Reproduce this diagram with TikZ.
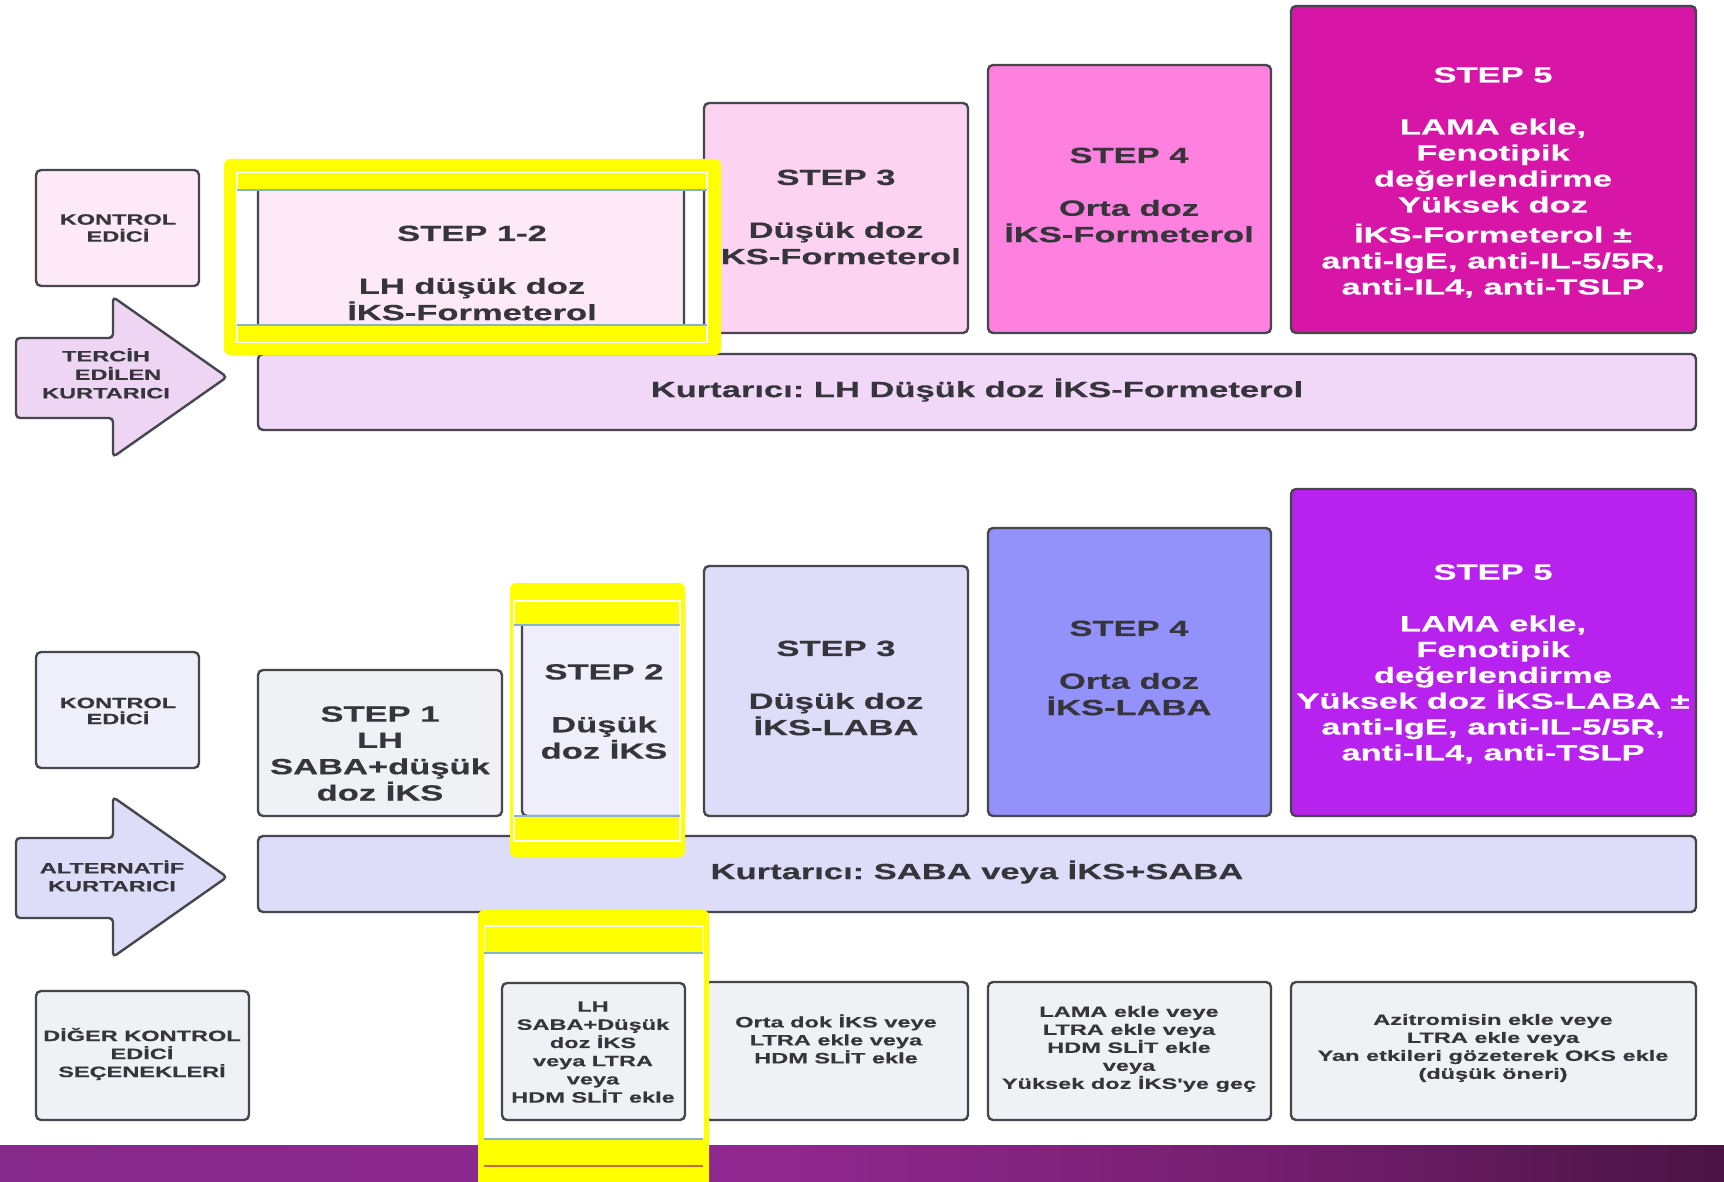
\documentclass[tikz,border=0pt]{standalone}
\usepackage{fontspec}
\setmainfont{Liberation Sans}
\newfontfamily\wfont{Liberation Sans}[FakeStretch=1.57, FakeBold=0.4]
\frenchspacing

% palette
\definecolor{ink}{HTML}{36353C}
\definecolor{edge}{HTML}{46464E}
\definecolor{pinkA}{HTML}{FDEAF6}
\definecolor{pinkArrow}{HTML}{EDD5F3}
\definecolor{pinkBar}{HTML}{F1D7F8}
\definecolor{pinkB}{HTML}{FCD3F0}
\definecolor{pinkC}{HTML}{FE80DF}
\definecolor{magentaD}{HTML}{D716A8}
\definecolor{lilacA}{HTML}{EFEFFC}
\definecolor{lilacB}{HTML}{DDDDF9}
\definecolor{periw}{HTML}{9292FA}
\definecolor{violetD}{HTML}{B822EE}
\definecolor{grayBox}{HTML}{F0F1F4}
\definecolor{hlyellow}{HTML}{FFFF00}
\definecolor{hlblue}{HTML}{8CB2CA}
\definecolor{hlred}{HTML}{C46A3C}
\definecolor{bandL}{HTML}{862A8C}
\definecolor{bandM}{HTML}{902890}
\definecolor{bandN}{HTML}{731E6C}
\definecolor{bandR}{HTML}{4A1444}

% footer gradient: the visible part of a TikZ shading is its middle 25bp--75bp
\pgfdeclarehorizontalshading{bandshade}{100bp}{color(0bp)=(bandL); color(25bp)=(bandL); color(47.5bp)=(bandM); color(62.5bp)=(bandN); color(75bp)=(bandR); color(100bp)=(bandR)}

\tikzset{
  box/.style={draw=edge, line width=2.4pt, rounded corners=5pt},
  bigtxt/.style={text=ink, align=center, inner sep=0pt,
    font=\wfont\bfseries\fontsize{22}{26.4}\selectfont},
  smalltxt/.style={text=ink, align=center, inner sep=0pt,
    font=\wfont\bfseries\fontsize{15}{18}\selectfont},
  hlframe/.style={fill=hlyellow, even odd rule},
  hlline/.style={draw=white, line width=1.4pt},
  hledge/.style={draw=hlblue, line width=1.3pt},
}

\begin{document}
\begin{tikzpicture}[x=1pt, y=-1pt]
\useasboundingbox (0,0) rectangle (1724,1182);
\fill[white] (0,0) rectangle (1724,1182);

% ---------- preferred track (ICS-formoterol) ----------
\draw[box, fill=pinkA] (36,170) rectangle (199,286);
\draw[box, fill=pinkArrow, rounded corners=4pt]
  (16,338) -- (113,338) -- (113,297) -- (227,377) -- (113,457) -- (113,418) -- (16,418) -- cycle;
\draw[box, fill=pinkA] (258,172) rectangle (684,333);
\draw[box, fill=pinkB] (704,103) rectangle (968,333);
\draw[box, fill=pinkC] (988,65) rectangle (1271,333);
\draw[box, fill=magentaD] (1291,6) rectangle (1696,333);
\draw[box, fill=pinkBar] (258,354) rectangle (1696,430);

\node[smalltxt, font=\wfont\bfseries\fontsize{15}{17}\selectfont] (ctrlA) at (118,228) {KONTROL\\EDİCİ};
\node[smalltxt, font=\wfont\bfseries\fontsize{15}{18.5}\selectfont] (prefA) at (106,373.5) {TERCİH\\\hspace*{24pt}EDİLEN\\KURTARICI};
\node[bigtxt] (s12) at (472,273) {STEP 1-2\\[26.4pt]LH düşük doz\\İKS-Formeterol};
\node[bigtxt] (s3a) at (836,217) {STEP 3\\[26.4pt]Düşük doz\\İKS-Formeterol};
\node[bigtxt] (s4a) at (1129,195) {STEP 4\\[26.4pt]Orta doz\\İKS-Formeterol};
\node[bigtxt, text=white, font=\wfont\bfseries\fontsize{22}{26}\selectfont] (s5a) at (1493,182.5)
  {STEP 5\\[26pt]LAMA ekle,\\Fenotipik\\değerlendirme\\Yüksek doz\\[4pt]İKS-Formeterol ±\\anti-IgE, anti-IL-5/5R,\\anti-IL4, anti-TSLP};
\node[bigtxt] (barA) at (977,390) {Kurtarıcı: LH Düşük doz İKS-Formeterol};

% ---------- alternative track (ICS-LABA) ----------
\draw[box, fill=lilacA] (36,652) rectangle (199,768);
\draw[box, fill=lilacB, rounded corners=4pt]
  (16,838) -- (113,838) -- (113,797) -- (227,877) -- (113,957) -- (113,918) -- (16,918) -- cycle;
\draw[box, fill=grayBox] (258,670) rectangle (502,816);
\draw[box, fill=lilacA] (522,600) rectangle (684,816);
\draw[box, fill=lilacB] (704,566) rectangle (968,816);
\draw[box, fill=periw] (988,528) rectangle (1271,816);
\draw[box, fill=violetD] (1291,489) rectangle (1696,816);
\draw[box, fill=lilacB] (258,836) rectangle (1696,912);

\node[smalltxt, font=\wfont\bfseries\fontsize{15}{16}\selectfont] (ctrlB) at (118,711) {KONTROL\\EDİCİ};
\node[smalltxt] (altB) at (112,876) {ALTERNATİF\\KURTARICI};
\node[bigtxt, font=\wfont\bfseries\fontsize{22}{26.3}\selectfont] (s1) at (380,753.5) {STEP 1\\LH\\SABA+düşük\\doz İKS};
\node[bigtxt] (s2) at (604,711.5) {STEP 2\\[26.4pt]Düşük\\doz İKS};
\node[bigtxt] (s3b) at (836,688) {STEP 3\\[26.4pt]Düşük doz\\İKS-LABA};
\node[bigtxt] (s4b) at (1129,668) {STEP 4\\[26.4pt]Orta doz\\İKS-LABA};
\node[bigtxt, text=white, font=\wfont\bfseries\fontsize{22}{25.8}\selectfont] (s5b) at (1493,664)
  {STEP 5\\[25.8pt]LAMA ekle,\\Fenotipik\\değerlendirme\\Yüksek doz İKS-LABA ±\\anti-IgE, anti-IL-5/5R,\\anti-IL4, anti-TSLP};
\node[bigtxt] (barB) at (977,872) {Kurtarıcı: SABA veya İKS+SABA};

% ---------- other controller options ----------
\draw[box, fill=grayBox] (36,991) rectangle (249,1120);
\draw[box, fill=grayBox] (502,983) rectangle (685,1120);
\draw[box, fill=grayBox] (705,982) rectangle (968,1120);
\draw[box, fill=grayBox] (988,982) rectangle (1271,1120);
\draw[box, fill=grayBox] (1291,982) rectangle (1696,1120);

\node[smalltxt] (oth) at (142,1054) {DİĞER KONTROL\\EDİCİ\\SEÇENEKLERİ};
\node[smalltxt, font=\wfont\bfseries\fontsize{15}{18.2}\selectfont] (o2) at (593,1052)
  {LH\\SABA+Düşük\\doz İKS\\veya LTRA\\veya\\HDM SLİT ekle};
\node[smalltxt] (o3) at (836,1039) {Orta dok İKS veye\\LTRA ekle veya\\HDM SLİT ekle};
\node[smalltxt] (o4) at (1129,1049) {LAMA ekle veye\\LTRA ekle veya\\HDM SLİT ekle\\veya\\Yüksek doz İKS'ye geç};
\node[smalltxt] (o5) at (1493,1048) {Azitromisin ekle veye\\LTRA ekle veya\\Yan etkileri gözeterek OKS ekle\\(düşük öneri)};

% ---------- footer band ----------
\shade[shading=bandshade] (0,1145) rectangle (1724,1182);

% ---------- yellow highlight frames ----------
% frame around STEP 1-2
\fill[hlframe] [rounded corners=6pt] (224,159) rectangle (721,355) [sharp corners] (237,190) rectangle (707,325);
\draw[hlline] (237,172.5) rectangle (707,342.5);
\draw[hledge] (237,190) -- (707,190) (237,325) -- (707,325);
% frame around STEP 2
\fill[hlframe] [rounded corners=6pt] (510,583) rectangle (685,857) [sharp corners] (514,625) rectangle (680,816);
\draw[hlline] (514,601) rectangle (680,841);
\draw[hledge] (514,625) -- (680,625) (514,816) -- (680,816);
% frame around the first option box
\fill[hlframe] [rounded corners=6pt] (478,910) rectangle (709,1196) [sharp corners] (484,953) rectangle (703,1139);
\draw[hlline] (484,926) -- (703,926);
\draw[hlline, line width=1pt] (484,926) -- (484,1139) (703,926) -- (703,1139);
\draw[hledge] (484,953) -- (703,953) (484,1139) -- (703,1139);
\draw[hlred, line width=1.6pt] (484,1166) -- (703,1166);
\end{tikzpicture}
\end{document}
